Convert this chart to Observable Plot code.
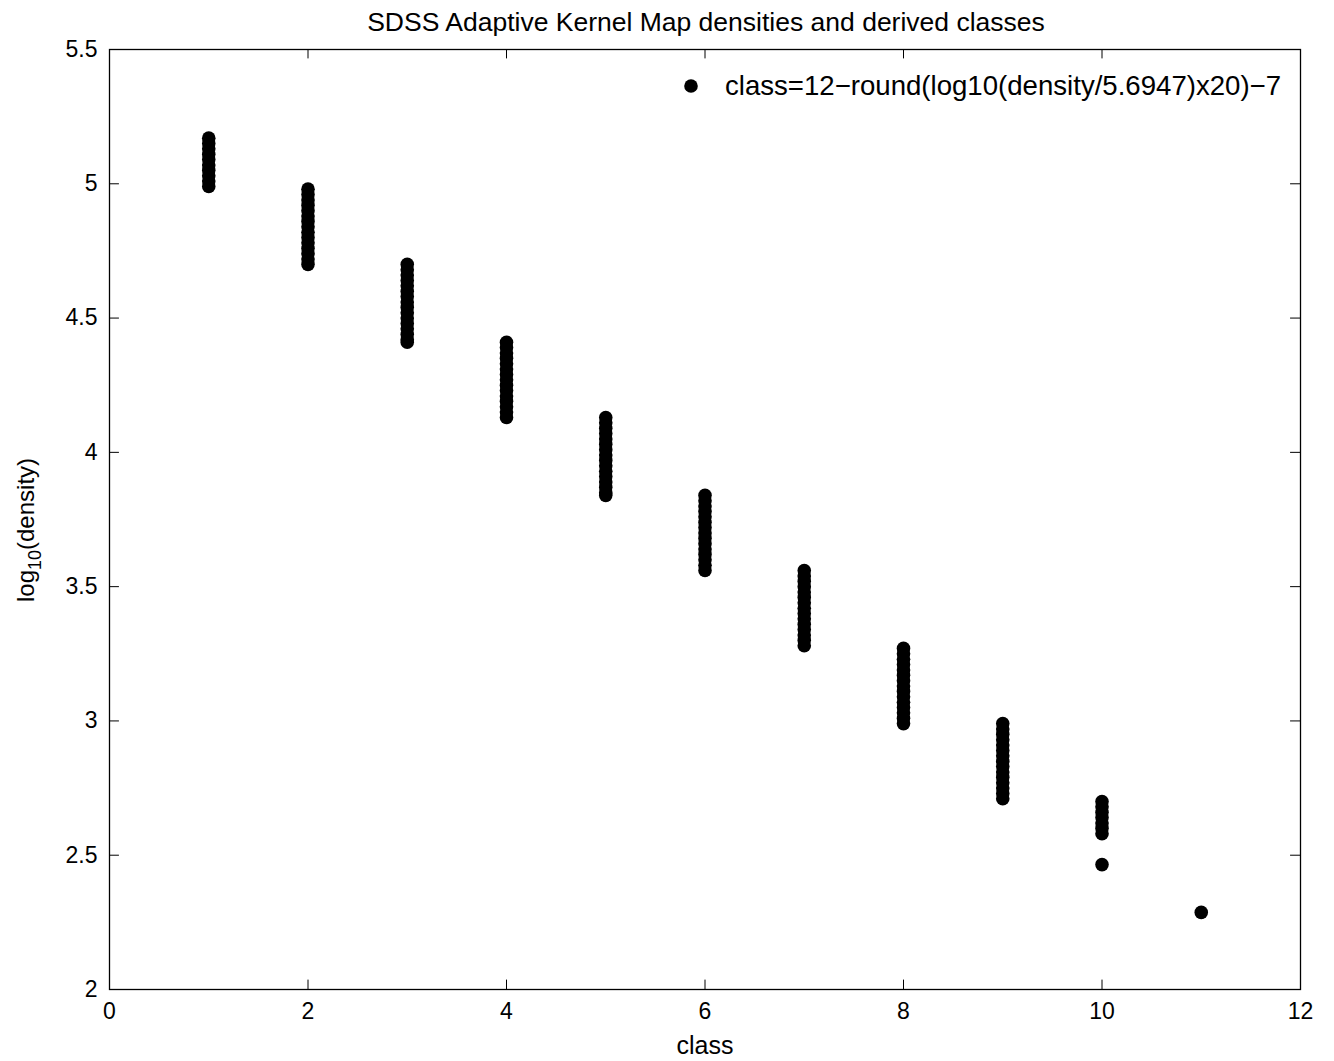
<!DOCTYPE html>
<html>
<head>
<meta charset="utf-8">
<script src="https://cdn.jsdelivr.net/npm/d3@7"></script>
<script src="https://cdn.jsdelivr.net/npm/@observablehq/plot@0.6"></script>
<style>
  html, body { margin: 0; padding: 0; background: #fff; }
  #chart { position: relative; width: 1334px; height: 1061px; }
</style>
</head>
<body>
<div id="chart"></div>
<script>
// Values (log10 density per class)
const class1  = [5.17, 5.15, 5.13, 5.11, 5.09, 5.07, 5.05, 5.03, 5.01, 4.99];
const class2  = [4.98, 4.96, 4.94, 4.92, 4.90, 4.88, 4.86, 4.84, 4.82, 4.80, 4.78, 4.76, 4.74, 4.72, 4.70];
const class3  = [4.70, 4.68, 4.66, 4.64, 4.62, 4.60, 4.58, 4.56, 4.54, 4.52, 4.50, 4.48, 4.46, 4.44, 4.42, 4.41];
const class4  = [4.41, 4.39, 4.37, 4.35, 4.33, 4.31, 4.29, 4.27, 4.25, 4.23, 4.21, 4.19, 4.17, 4.15, 4.13];
const class5  = [4.13, 4.11, 4.09, 4.07, 4.05, 4.03, 4.01, 3.99, 3.97, 3.95, 3.93, 3.91, 3.89, 3.87, 3.85, 3.84];
const class6  = [3.84, 3.82, 3.80, 3.78, 3.76, 3.74, 3.72, 3.70, 3.68, 3.66, 3.64, 3.62, 3.60, 3.58, 3.56];
const class7  = [3.56, 3.54, 3.52, 3.50, 3.48, 3.46, 3.44, 3.42, 3.40, 3.38, 3.36, 3.34, 3.32, 3.30, 3.28];
const class8  = [3.27, 3.25, 3.23, 3.21, 3.19, 3.17, 3.15, 3.13, 3.11, 3.09, 3.07, 3.05, 3.03, 3.01, 2.99];
const class9  = [2.99, 2.97, 2.95, 2.93, 2.91, 2.89, 2.87, 2.85, 2.83, 2.81, 2.79, 2.77, 2.75, 2.73, 2.71];
const class10 = [2.70, 2.68, 2.66, 2.64, 2.62, 2.60, 2.58, 2.465];
const class11 = [2.287];

const classes = [1, 2, 3, 4, 5, 6, 7, 8, 9, 10, 11];
const densities = [class1, class2, class3, class4, class5, class6, class7, class8, class9, class10, class11];

const xTicks = [0, 2, 4, 6, 8, 10, 12];
const yTicks = [2, 2.5, 3, 3.5, 4, 4.5, 5, 5.5];

const titleText = "SDSS Adaptive Kernel Map densities and derived classes";
const xLabel = "class";
const legendText = "class=12\u2212round(log10(density/5.6947)x20)\u22127";

const table = classes.flatMap((c, i) => densities[i].map(v => ({cls: c, logd: v})));

const FONT = "'Liberation Sans', Arial, Helvetica, sans-serif";
const xDom = [0, 12], yDom = [2, 5.5];
const tx = 0.1;   // inward tick length in x units
const ty = 0.035; // inward tick length in y units

const plot = Plot.plot({
  width: 1334,
  height: 1061,
  marginLeft: 109,
  marginRight: 34,
  marginTop: 49,
  marginBottom: 72,
  style: {fontFamily: FONT, fontSize: "23px", color: "#000", background: "#fff"},
  x: {domain: xDom},
  y: {domain: yDom},
  marks: [
    Plot.axisX(xTicks, {tickSize: 0, tickPadding: 13, tickFormat: d => String(d), label: null, fontSize: 23}),
    Plot.axisY(yTicks, {tickSize: 0, tickPadding: 12, tickFormat: d => String(d), label: null, fontSize: 23}),
    // inward ticks on all four sides
    Plot.ruleX(xTicks, {x: d => d, y1: yDom[0], y2: yDom[0] + ty, stroke: "#000", strokeWidth: 1}),
    Plot.ruleX(xTicks, {x: d => d, y1: yDom[1], y2: yDom[1] - ty, stroke: "#000", strokeWidth: 1}),
    Plot.ruleY(yTicks, {y: d => d, x1: xDom[0], x2: xDom[0] + tx, stroke: "#000", strokeWidth: 1}),
    Plot.ruleY(yTicks, {y: d => d, x1: xDom[1], x2: xDom[1] - tx, stroke: "#000", strokeWidth: 1}),
    Plot.dot(table, {x: "cls", y: "logd", r: 6.8, fill: "#000", stroke: "none"}),
    Plot.frame({stroke: "#000", strokeWidth: 1.3})
  ]
});

const svg = d3.select(plot);
// Title
svg.append("text")
  .attr("x", 706).attr("y", 31)
  .attr("text-anchor", "middle")
  .style("font-family", FONT).style("font-size", "26.5px")
  .text(titleText);
// x label
svg.append("text")
  .attr("x", 705).attr("y", 1054)
  .attr("text-anchor", "middle")
  .style("font-family", FONT).style("font-size", "25px")
  .text(xLabel);
// y label with subscript
const yl = svg.append("text")
  .attr("transform", "translate(34,530) rotate(-90)")
  .attr("text-anchor", "middle")
  .style("font-family", FONT).style("font-size", "24px");
yl.append("tspan").text("log");
yl.append("tspan").attr("dy", 7).style("font-size", "18px").text("10");
yl.append("tspan").attr("dy", -7).text("(density)");
// legend inside plot
svg.append("circle").attr("cx", 691).attr("cy", 86).attr("r", 6.8).attr("fill", "#000");
svg.append("text")
  .attr("x", 725).attr("y", 95)
  .attr("text-anchor", "start")
  .style("font-family", FONT).style("font-size", "27.6px")
  .text(legendText);

document.getElementById("chart").appendChild(plot);
</script>
</body>
</html>
